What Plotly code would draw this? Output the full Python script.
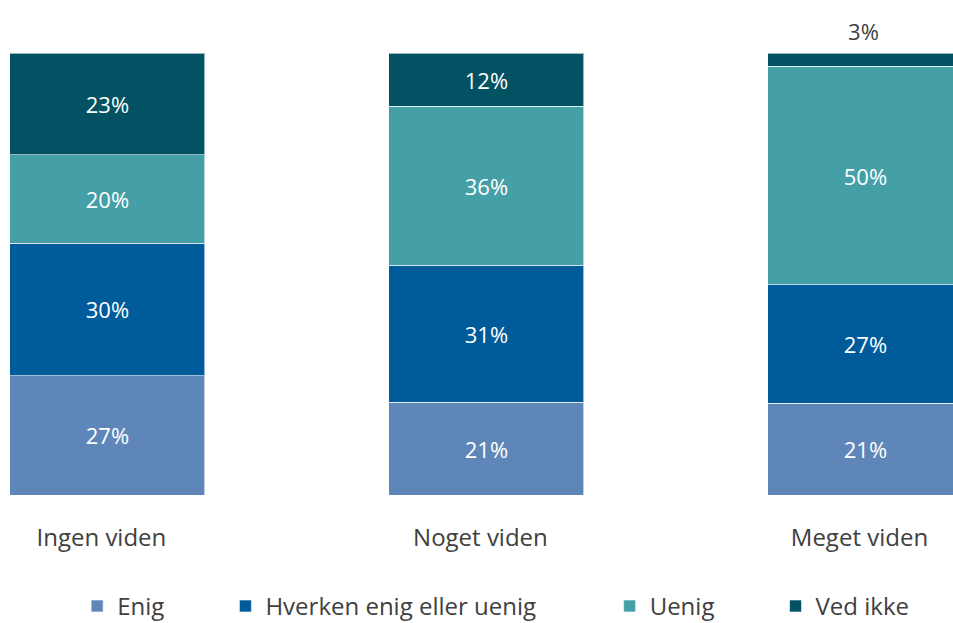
import plotly.graph_objects as go

# --------------------------------------------------
# Data
# --------------------------------------------------
categories = ["Ingen viden", "Noget viden", "Meget viden"]

enig = [27, 21, 21]
hverken = [30, 31, 27]
uenig = [20, 36, 50]
ved_ikke = [23, 12, 3]

series = [
    ("Enig", enig, "#5F86B9"),
    ("Hverken enig eller uenig", hverken, "#005B9A"),
    ("Uenig", uenig, "#449FA6"),
    ("Ved ikke", ved_ikke, "#025263"),
]

# extra room after each legend label (Excel-style spacing)
legend_pad = {"Enig": 9, "Hverken enig eller uenig": 11, "Uenig": 9, "Ved ikke": 0}

FONT = "Open Sans"

fig = go.Figure()

for name, values, color in series:
    labels = [f"{v}%" for v in values]
    positions = ["inside"] * len(values)
    if name == "Ved ikke":
        # smallest segment gets its label above the bar
        positions[-1] = "outside"
        labels[-1] = labels[-1] + "<sub> </sub>"
    fig.add_trace(
        go.Bar(
            name=name + "\u00a0" * legend_pad[name],
            x=categories,
            y=values,
            text=labels,
            textposition=positions,
            insidetextanchor="middle",
            insidetextfont=dict(color="white", size=22, family=FONT),
            outsidetextfont=dict(color="#404040", size=22, family=FONT),
            marker=dict(color=color, line=dict(color="rgba(255,255,255,0.6)", width=1)),
            cliponaxis=False,
            width=0.5145,
        )
    )

fig.update_layout(
    barmode="stack",
    barnorm="percent",
    width=953,
    height=623,
    margin=dict(l=10, r=0, t=53, b=128, autoexpand=False),
    paper_bgcolor="white",
    plot_bgcolor="white",
    font=dict(family=FONT, color="#404040", size=22),
    showlegend=True,
    legend=dict(
        orientation="h",
        traceorder="normal",
        x=0.515,
        xanchor="center",
        y=-0.252,
        yanchor="middle",
        font=dict(size=24),
    ),
)

fig.update_xaxes(
    range=[-0.257, 2.231],
    showgrid=False,
    showline=False,
    zeroline=False,
    ticks="",
    ticklabelstandoff=26,
    ticklabelshift=-6,
    tickfont=dict(size=24),
    automargin=False,
)
fig.update_yaxes(
    range=[0, 100],
    visible=False,
    automargin=False,
)

# drop the default 8px page margin so the figure fills the window
fig.write_html(
    "out.html",
    config={"displayModeBar": False},
    post_script="document.body.style.margin = '0';",
)
